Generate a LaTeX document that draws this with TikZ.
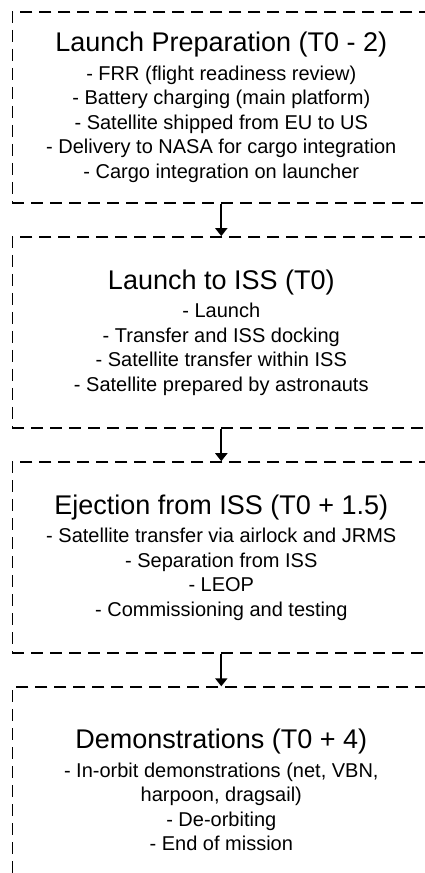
\documentclass[tikz,border=0pt]{standalone}
\usepackage{fontspec}
\setmainfont{Liberation Sans}
\usetikzlibrary{positioning, arrows.meta}

\newcommand*{\stagetitle}[1]{{\fontsize{27}{30}\selectfont #1}}

\begin{document}
\begin{tikzpicture}[
    stagebox/.style={draw, line width=1.6pt, dash pattern=on 12pt off 7pt,
        minimum width=418pt, minimum height=191pt, inner sep=0pt,
        align=center, font=\fontsize{20}{24.5}\selectfont},
    flow/.style={line width=2pt, -{Triangle[length=8pt, width=12pt]}}
]
\useasboundingbox (0,0) rectangle (425pt,-873pt);

\node (prep) [stagebox, anchor=north west] at (11.5pt,-11pt)
    {\stagetitle{Launch Preparation (T0 - 2)}\\[4pt]
     - FRR (flight readiness review)\\
     - Battery charging (main platform)\\
     - Satellite shipped from EU to US\\
     - Delivery to NASA for cargo integration\\
     - Cargo integration on launcher};
\node (launch) [stagebox, below=32.5pt of prep]
    {\stagetitle{Launch to ISS (T0)}\\[4pt]
     - Launch\\
     - Transfer and ISS docking\\
     - Satellite transfer within ISS\\
     - Satellite prepared by astronauts};
\node (eject) [stagebox, below=32.5pt of launch]
    {\stagetitle{Ejection from ISS (T0 + 1.5)}\\[4pt]
     - Satellite transfer via airlock and JRMS\\
     - Separation from ISS\\
     - LEOP\\
     - Commissioning and testing};
\node (demo) [stagebox, minimum height=206pt, below=32.5pt of eject]
    {\stagetitle{Demonstrations (T0 + 4)}\\[4pt]
     - In-orbit demonstrations (net, VBN,\\
     harpoon, dragsail)\\
     - De-orbiting\\
     - End of mission};

\draw[flow] (prep) -- (launch);
\draw[flow] (launch) -- (eject);
\draw[flow] (eject) -- (demo);

\end{tikzpicture}
\end{document}
